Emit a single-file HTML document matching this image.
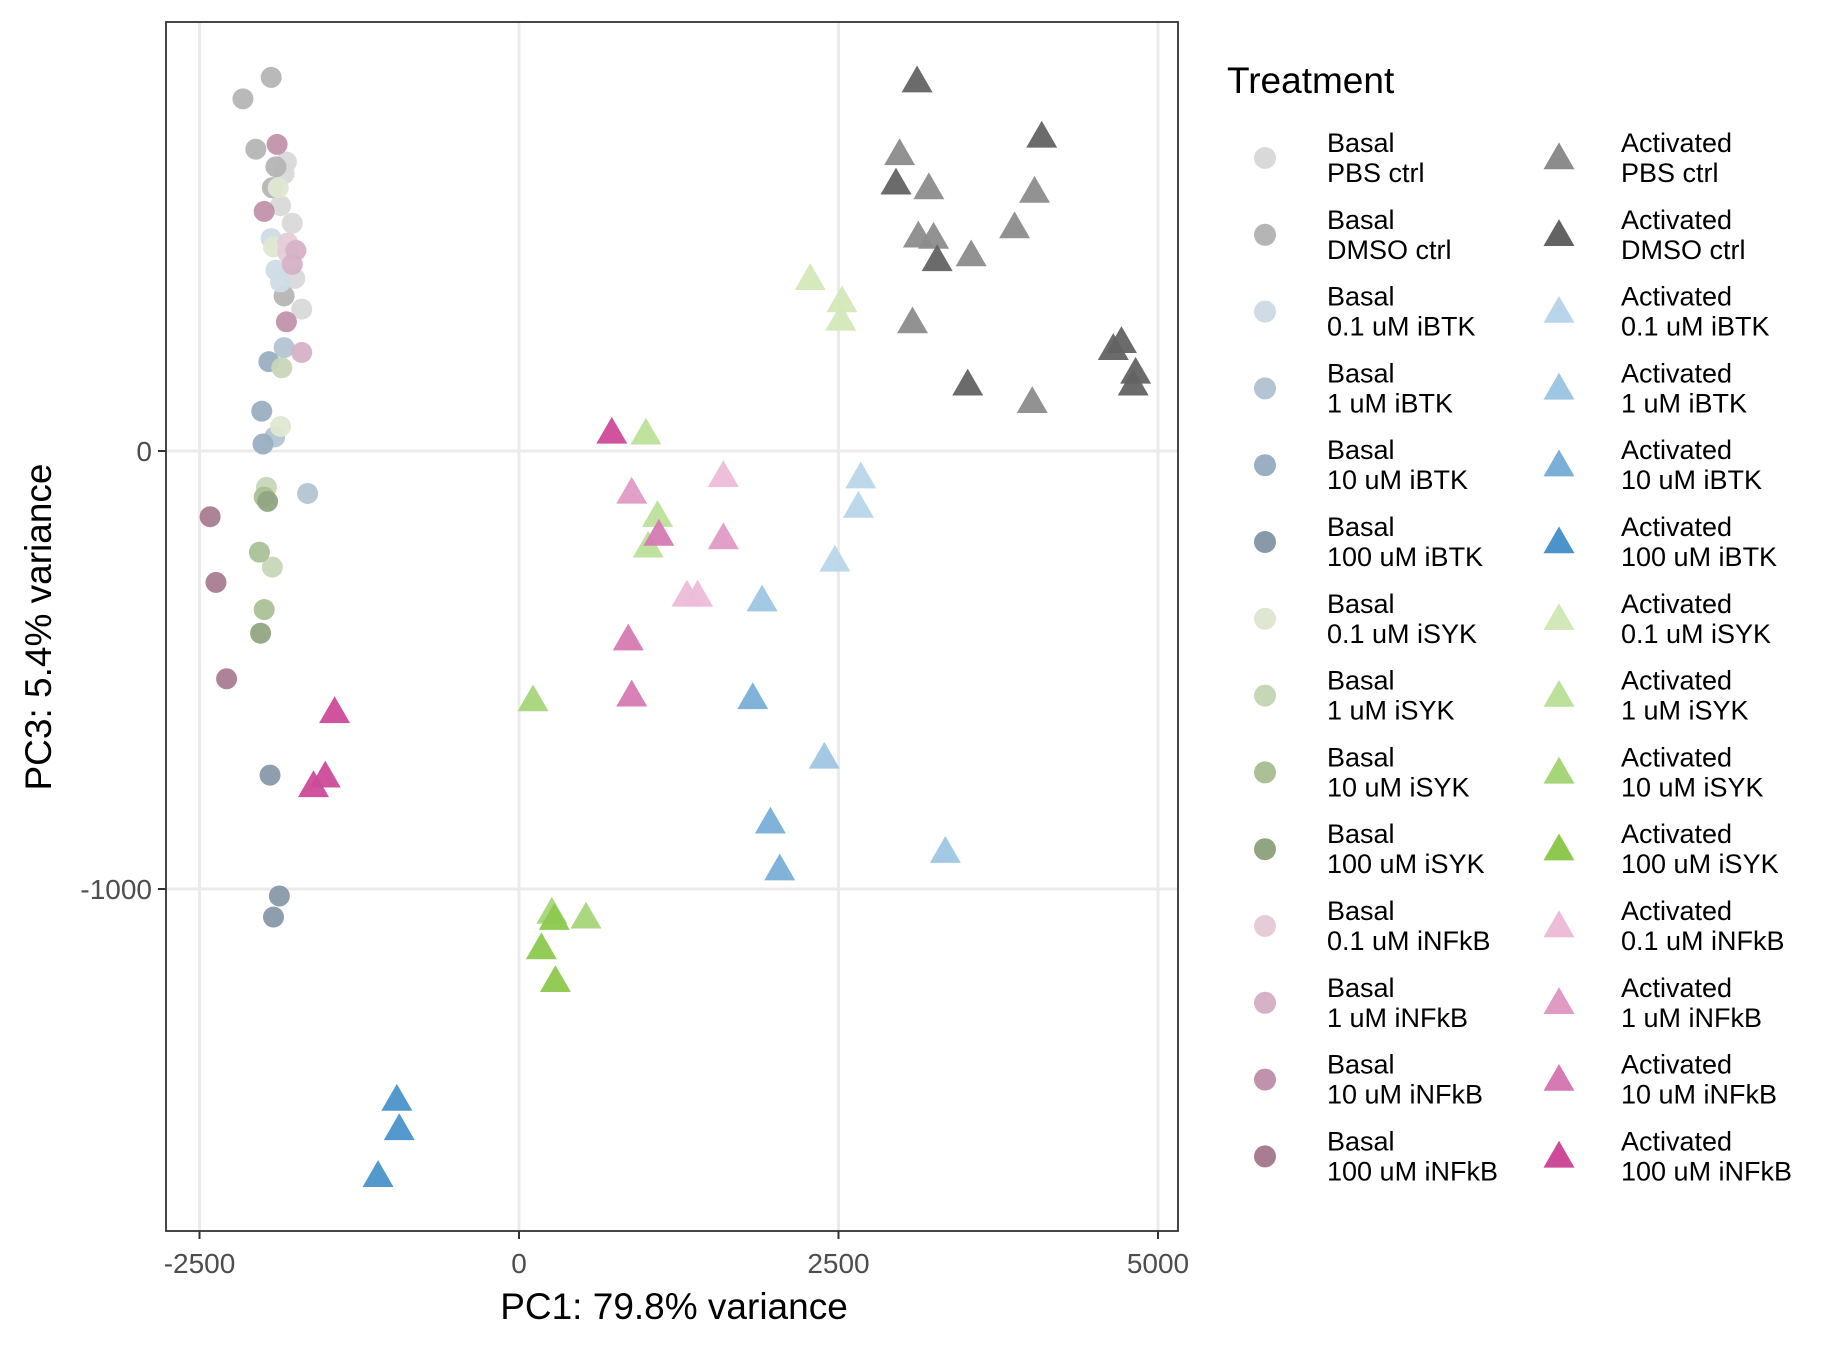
<!DOCTYPE html>
<html><head><meta charset="utf-8"><style>
html,body{margin:0;padding:0;background:#fff;}
svg{display:block;font-family:"Liberation Sans",Arial,sans-serif;}
</style></head><body>
<svg id="chart" width="1837" height="1350" viewBox="0 0 1837 1350" xmlns="http://www.w3.org/2000/svg">
<rect width="1837" height="1350" fill="#fff"/>
<g id="grid"></g><g id="marks"></g><g id="axes"></g><g id="legend"></g>
</svg>
<script>
const xTicks=[-2500,0,2500,5000];
const yTicks=[0,-1000];
const groupNames=["Basal PBS ctrl","Basal DMSO ctrl","Basal 0.1 uM iBTK","Basal 1 uM iBTK","Basal 10 uM iBTK","Basal 100 uM iBTK","Basal 0.1 uM iSYK","Basal 1 uM iSYK","Basal 10 uM iSYK","Basal 100 uM iSYK","Basal 0.1 uM iNFkB","Basal 1 uM iNFkB","Basal 10 uM iNFkB","Basal 100 uM iNFkB",
"Activated PBS ctrl","Activated DMSO ctrl","Activated 0.1 uM iBTK","Activated 1 uM iBTK","Activated 10 uM iBTK","Activated 100 uM iBTK","Activated 0.1 uM iSYK","Activated 1 uM iSYK","Activated 10 uM iSYK","Activated 100 uM iSYK","Activated 0.1 uM iNFkB","Activated 1 uM iNFkB","Activated 10 uM iNFkB","Activated 100 uM iNFkB"];
const groupColors=["#d9d9d9","#b5b5b5","#cfdce6","#b4c4d2","#9aafc2","#8899a9","#dfe7d2","#c8d6b8","#abc097","#92a583","#e6ccd9","#d6b2c6","#c192ab","#a87c91",
"#8c8c8c","#636363","#b9d5ea","#9fc6e3","#7aafd8","#4b93cb","#d3e8b8","#bde09a","#a6d57a","#8cc94e","#ecbcd8","#e09ac4","#d57ab2","#cc4a98"];
const pc1=[
[-1820,-1838,-1774,-1755,-1700,-1866],
[-1939,-2160,-2059,-1902,-1930,-1838],
[-1939,-1902,-1866],
[-1838,-1654,-1912],
[-1957,-2013,-2003],
[-1948,-1875,-1921],
[-1884,-1921,-1866],
[-1976,-1930,-1856],
[-2031,-1994,-1994],
[-2022,-1967],
[-1810,-1810],
[-1746,-1700,-1774],
[-1893,-1994,-1820],
[-2417,-2371,-2288],
[2978,3207,4034,3125,3244,3538,3878,3079,4016],
[3115,4090,2950,3272,3511,4650,4714,4825,4806],
[2674,2656,2472],
[1902,2389,3336],
[1829,1967,2040],
[-956,-937,-1103],
[2279,2527,2518],
[993,1084,1011],
[110,524,257],
[276,175,285],
[1599,1314,1397],
[882,1599],
[1094,855,882],
[726,-1443,-1516,-1608]];
const pc3=[
[660,633,520,394,324,560],
[853,804,689,649,601,354],
[485,413,386],
[236,-97,32],
[204,91,16],
[-740,-1016,-1064],
[601,466,56],
[-83,-265,190],
[-231,-362,-105],
[-416,-115],
[475,453],
[458,225,426],
[700,547,295],
[-150,-300,-520],
[676,598,590,488,485,445,509,292,110],
[842,716,609,434,150,231,247,177,150],
[-62,-129,-252],
[-343,-702,-917],
[-566,-850,-957],
[-1483,-1550,-1657],
[391,340,298],
[38,-150,-220],
[-571,-1067,-1056],
[-1070,-1137,-1212],
[-59,-332,-332],
[-97,-201],
[-193,-432,-560],
[40,-598,-745,-767]];

const NS="http://www.w3.org/2000/svg";
const PL=166,PR=1178,PT=22,PB=1231;
function sx(v){return 519+v*0.1278;}
function sy(v){return 451-v*0.438;}
function mk(tag,attrs,parent){const e=document.createElementNS(NS,tag);for(const k in attrs)e.setAttribute(k,attrs[k]);parent.appendChild(e);return e;}
const grid=document.getElementById('grid'),marks=document.getElementById('marks'),axes=document.getElementById('axes'),legend=document.getElementById('legend');
mk('rect',{x:PL,y:PT,width:PR-PL,height:PB-PT,fill:'#fff'},grid);
xTicks.forEach(t=>{const l=mk('line',{x1:sx(t),x2:sx(t),y1:PT,y2:PB,stroke:'#ebebeb','stroke-width':3},grid);

});
yTicks.forEach(t=>{const l=mk('line',{x1:PL,x2:PR,y1:sy(t),y2:sy(t),stroke:'#ebebeb','stroke-width':3},grid);

});
function tri(cx,cy,s){const h=s*0.866;return `${cx},${cy-h*0.62} ${cx-s/2},${cy+h*0.38} ${cx+s/2},${cy+h*0.38}`;}
for(let g=0;g<groupNames.length;g++){
  for(let i=0;i<pc1[g].length;i++){
    const x=sx(pc1[g][i]),y=sy(pc3[g][i]);let e;
    if(g<14){e=mk('circle',{cx:x,cy:y,r:10.5,fill:groupColors[g],'fill-opacity':0.95},marks);}
    else{e=mk('polygon',{points:tri(x,y,31),fill:groupColors[g],'fill-opacity':0.95},marks);}
    
    
  }
}
const border=mk('rect',{x:PL,y:PT,width:PR-PL,height:PB-PT,fill:'none',stroke:'#333','stroke-width':1.8},axes);


xTicks.forEach(t=>{mk('line',{x1:sx(t),x2:sx(t),y1:PB,y2:PB+8,stroke:'#333','stroke-width':2},axes);
const tx=mk('text',{x:sx(t),y:PB+42,'text-anchor':'middle','font-size':28,fill:'#4d4d4d'},axes);tx.textContent=t;

});
yTicks.forEach(t=>{mk('line',{x1:PL-8,x2:PL,y1:sy(t),y2:sy(t),stroke:'#333','stroke-width':2},axes);
const tx=mk('text',{x:PL-14,y:sy(t)+10,'text-anchor':'end','font-size':28,fill:'#4d4d4d'},axes);tx.textContent=t;

});
const xt=mk('text',{x:674,y:1319,'text-anchor':'middle','font-size':37,fill:'#000'},axes);xt.textContent='PC1: 79.8% variance';


const yt=mk('text',{x:0,y:0,'text-anchor':'middle','font-size':37,fill:'#000',transform:'translate(51,627) rotate(-90)'},axes);yt.textContent='PC3: 5.4% variance';


const lt=mk('text',{x:1227,y:93,'font-size':37,fill:'#000'},legend);lt.textContent='Treatment';


for(let g=0;g<groupNames.length;g++){
  const col=g<14?0:1,row=g%14;const cy=158+row*76.8;
  const kx=col?1559:1265,tx=col?1621:1327;
  const ge=mk('g',{},legend);
  
  
  if(col===0)mk('circle',{cx:kx,cy:cy,r:11,fill:groupColors[g]},ge);
  else mk('polygon',{points:tri(kx,cy+1,31),fill:groupColors[g]},ge);
  const nm=groupNames[g];const sp=nm.indexOf(' ');
  const a=mk('text',{x:tx,y:cy-6,'font-size':27,fill:'#000'},ge);a.textContent=nm.slice(0,sp);
  const b=mk('text',{x:tx,y:cy+24,'font-size':27,fill:'#000'},ge);b.textContent=nm.slice(sp+1);
}
</script>
</body></html>
